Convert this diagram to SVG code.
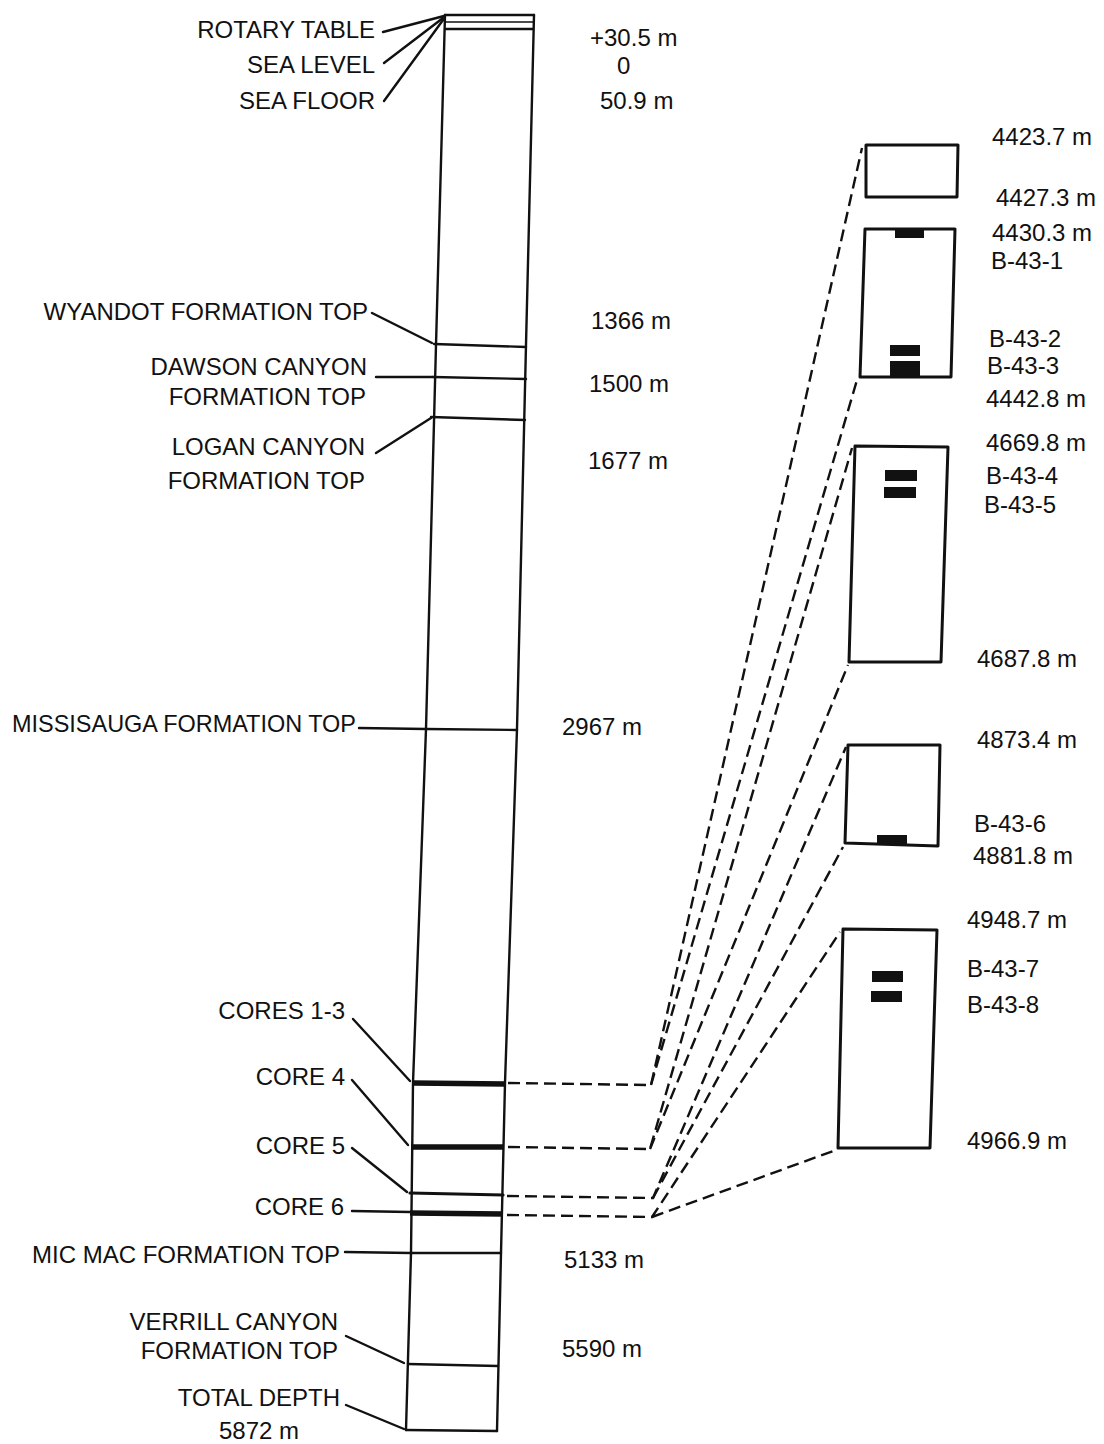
<svg xmlns="http://www.w3.org/2000/svg" width="1104" height="1444" viewBox="0 0 1104 1444">
<style>
text{font-family:"Liberation Sans",Arial,sans-serif;font-size:24px;fill:#111}
.l{text-anchor:end}
.ln{stroke:#111;stroke-width:2.4;fill:none;stroke-linecap:round}
.thin{stroke:#111;stroke-width:1.5;fill:none}
.core{stroke:#111;stroke-width:5.5;fill:none}
.box{stroke:#111;stroke-width:3;fill:none;stroke-linejoin:round}
.bar{fill:#111}
.dash{stroke:#111;stroke-width:2.4;fill:none;stroke-dasharray:12 6}
</style>
<rect width="1104" height="1444" fill="#fff"/>
<g id="well-column">
<polyline class="ln" points="445,15 436,345 426,729 413,1083 411,1253 406,1430"/>
<polyline class="ln" points="534,15 526,345 517,729 505,1083 501,1253 497,1431"/>
<line class="ln" x1="445" y1="15" x2="534" y2="15"/>
<line class="thin" x1="445" y1="22" x2="533" y2="22"/>
<line class="ln" x1="445" y1="29" x2="533" y2="29"/>
<line class="ln" x1="434" y1="344" x2="526" y2="347"/>
<line class="ln" x1="433" y1="377" x2="526" y2="379"/>
<line class="ln" x1="431" y1="417" x2="525" y2="420"/>
<line class="ln" x1="426" y1="729" x2="517" y2="730"/>
<line class="core" x1="413" y1="1083" x2="505" y2="1084"/>
<line class="core" x1="411" y1="1147" x2="503" y2="1147"/>
<line class="ln" x1="410" y1="1193" x2="503" y2="1195" style="stroke-width:3.2"/>
<line class="core" x1="410" y1="1213" x2="502" y2="1214"/>
<line class="ln" x1="411" y1="1253" x2="501" y2="1253"/>
<line class="ln" x1="408" y1="1364" x2="498" y2="1366"/>
<line class="ln" x1="406" y1="1430" x2="497" y2="1431"/>
</g>
<g id="left-labels">
<text class="l" x="375" y="38">ROTARY TABLE</text>
<text class="l" x="375" y="73">SEA LEVEL</text>
<text class="l" x="375" y="109">SEA FLOOR</text>
<text class="l" x="368" y="320">WYANDOT FORMATION TOP</text>
<text class="l" x="367" y="375">DAWSON CANYON</text>
<text class="l" x="366" y="405">FORMATION TOP</text>
<text class="l" x="365" y="455">LOGAN CANYON</text>
<text class="l" x="365" y="489">FORMATION TOP</text>
<text class="l" x="356" y="732" textLength="344" lengthAdjust="spacingAndGlyphs">MISSISAUGA FORMATION TOP</text>
<text class="l" x="345" y="1019">CORES 1-3</text>
<text class="l" x="345" y="1085">CORE 4</text>
<text class="l" x="345" y="1154">CORE 5</text>
<text class="l" x="344" y="1215">CORE 6</text>
<text class="l" x="340" y="1263">MIC MAC FORMATION TOP</text>
<text class="l" x="338" y="1330">VERRILL CANYON</text>
<text class="l" x="338" y="1359">FORMATION TOP</text>
<text class="l" x="340" y="1406">TOTAL DEPTH</text>
<text x="259" y="1439" text-anchor="middle">5872 m</text>
</g>
<g id="leaders">
<line class="ln" x1="383" y1="32" x2="444" y2="16"/>
<line class="ln" x1="384" y1="63" x2="443" y2="18"/>
<line class="ln" x1="384" y1="101" x2="443" y2="20"/>
<line class="ln" x1="372" y1="313" x2="432" y2="343"/>
<line class="ln" x1="376" y1="377" x2="433" y2="377"/>
<line class="ln" x1="376" y1="453" x2="431" y2="418"/>
<line class="ln" x1="359" y1="728" x2="426" y2="729"/>
<line class="ln" x1="353" y1="1019" x2="410" y2="1081"/>
<line class="ln" x1="352" y1="1080" x2="408" y2="1145"/>
<line class="ln" x1="352" y1="1148" x2="407" y2="1192"/>
<line class="ln" x1="352" y1="1211" x2="410" y2="1212"/>
<line class="ln" x1="345" y1="1252" x2="411" y2="1253"/>
<line class="ln" x1="346" y1="1336" x2="404" y2="1363"/>
<line class="ln" x1="346" y1="1405" x2="404" y2="1429"/>
</g>
<g id="depth-values">
<text x="590" y="46">+30.5 m</text>
<text x="617" y="74">0</text>
<text x="600" y="109">50.9 m</text>
<text x="591" y="329">1366 m</text>
<text x="589" y="392">1500 m</text>
<text x="588" y="469">1677 m</text>
<text x="562" y="735">2967 m</text>
<text x="564" y="1268">5133 m</text>
<text x="562" y="1357">5590 m</text>
</g>
<g id="connectors">
<polyline class="dash" points="508,1083 651,1085 862,148"/>
<polyline class="dash" points="651,1085 857,380"/>
<polyline class="dash" points="508,1147 650,1149 852,448"/>
<polyline class="dash" points="650,1149 848,665"/>
<polyline class="dash" points="507,1196 653,1198 846,747"/>
<polyline class="dash" points="653,1198 843,847"/>
<polyline class="dash" points="507,1215 652,1217 840,932"/>
<polyline class="dash" points="652,1217 836,1150"/>
</g>
<g id="core-box-1">
<polygon class="box" points="866,145 958,145 957,197 866,197"/>
<text x="992" y="145">4423.7 m</text>
<text x="996" y="206">4427.3 m</text>
</g>
<g id="core-box-2">
<polygon class="box" points="865,229 955,229 951,377 860,377"/>
<rect class="bar" x="895" y="229" width="29" height="9"/>
<rect class="bar" x="890" y="345" width="30" height="11"/>
<rect class="bar" x="890" y="361" width="30" height="15"/>
<text x="992" y="241">4430.3 m</text>
<text x="991" y="269">B-43-1</text>
<text x="989" y="347">B-43-2</text>
<text x="987" y="374">B-43-3</text>
<text x="986" y="407">4442.8 m</text>
</g>
<g id="core-box-3">
<polygon class="box" points="855,446 948,447 941,662 849,662"/>
<rect class="bar" x="885" y="470" width="32" height="11"/>
<rect class="bar" x="884" y="487" width="32" height="11"/>
<text x="986" y="451">4669.8 m</text>
<text x="986" y="484">B-43-4</text>
<text x="984" y="513">B-43-5</text>
<text x="977" y="667">4687.8 m</text>
</g>
<g id="core-box-4">
<polygon class="box" points="848,745 940,745 938,846 845,843"/>
<rect class="bar" x="877" y="835" width="30" height="9"/>
<text x="977" y="748">4873.4 m</text>
<text x="974" y="832">B-43-6</text>
<text x="973" y="864">4881.8 m</text>
</g>
<g id="core-box-5">
<polygon class="box" points="843,929 937,930 930,1148 838,1148"/>
<rect class="bar" x="872" y="971" width="31" height="11"/>
<rect class="bar" x="871" y="991" width="31" height="11"/>
<text x="967" y="928">4948.7 m</text>
<text x="967" y="977">B-43-7</text>
<text x="967" y="1013">B-43-8</text>
<text x="967" y="1149">4966.9 m</text>
</g>
</svg>
